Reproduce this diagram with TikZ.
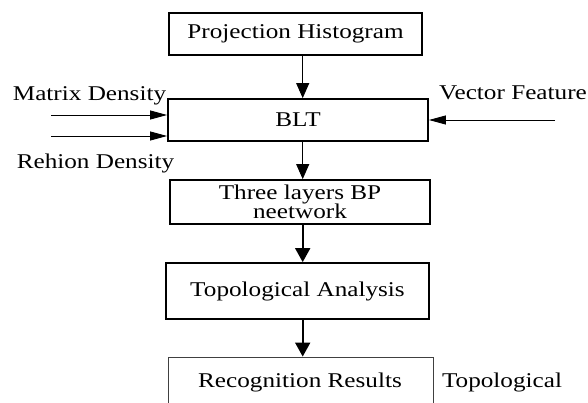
\documentclass[tikz,border=0pt]{standalone}
\usepackage{fontspec}
\usepackage{graphicx}
\setmainfont{Liberation Serif}
\usetikzlibrary{arrows.meta,calc}
\newcommand\wtxt[1]{\scalebox{1.2}[1]{#1}}
\tikzset{
  stagebox/.style={draw, line width=1.8pt, inner sep=0pt, align=center,
                   font=\fontsize{21}{22}\selectfont},
  lastbox/.style={draw=black!75, line width=0.9pt, inner sep=0pt,
                  font=\fontsize{21}{22}\selectfont},
  lbl/.style={inner sep=0pt, font=\fontsize{21}{22}\selectfont},
  thinarrow/.style={line width=0.9pt, -{Triangle[length=15pt,width=13pt]}},
  sidearrow/.style={line width=0.9pt, -{Triangle[length=17pt,width=9pt]}},
  thickarrow/.style={line width=1.8pt, -{Triangle[length=14pt,width=15pt]}},
}
\begin{document}
\begin{tikzpicture}[x=1pt,y=-1pt]
\clip (0,0) rectangle (588,403);
\fill[white] (0,0) rectangle (588,403);

% main column of stages
\node[stagebox, minimum width=253pt, minimum height=42pt] (ph) at (295.5,34)
  {\wtxt{Projection Histogram}};
\node[stagebox, minimum width=260pt, minimum height=42pt] (blt) at (298,120)
  {\wtxt{BLT}};
\node[stagebox, minimum width=260pt, minimum height=44pt] (bp) at (300,202)
  {\wtxt{Three layers BP}\\[-3pt]\wtxt{neetwork}};
\node[stagebox, minimum width=263pt, minimum height=56pt] (ta) at (297.5,291)
  {\wtxt{Topological Analysis}};
\node[lastbox, minimum width=265pt, minimum height=70pt] (rr) at (300.5,392)
  {};
\node[lbl] (rrtext) at (300,382) {\wtxt{Recognition Results}};

% flow axis and input stubs
\coordinate (axis) at (302.7,0);
\coordinate (in1) at (51,115);
\coordinate (in2) at (51,136);
\coordinate (in3) at (555,120);

\draw[thinarrow] (ph.south -| axis) -- (blt.north -| axis);
\draw[thinarrow] (blt.south -| axis) -- (bp.north -| axis);
\draw[thickarrow] (bp.south -| axis) -- (ta.north -| axis);
\draw[thickarrow] (ta.south -| axis) -- (rr.north -| axis);

\draw[sidearrow] (in1) -- (blt.west |- in1);
\draw[sidearrow] (in2) -- (blt.west |- in2);
\draw[sidearrow] (in3) -- (blt.east |- in3);

% side labels
\node[lbl] (md) at (89.5,96) {\wtxt{Matrix Density}};
\node[lbl] (rd) at (95.5,163) {\wtxt{Rehion Density}};
\node[lbl] (vf) at (513,93) {\wtxt{Vector Feature}};
\node[lbl] (tp) at (502,382) {\wtxt{Topological}};
\end{tikzpicture}
\end{document}
